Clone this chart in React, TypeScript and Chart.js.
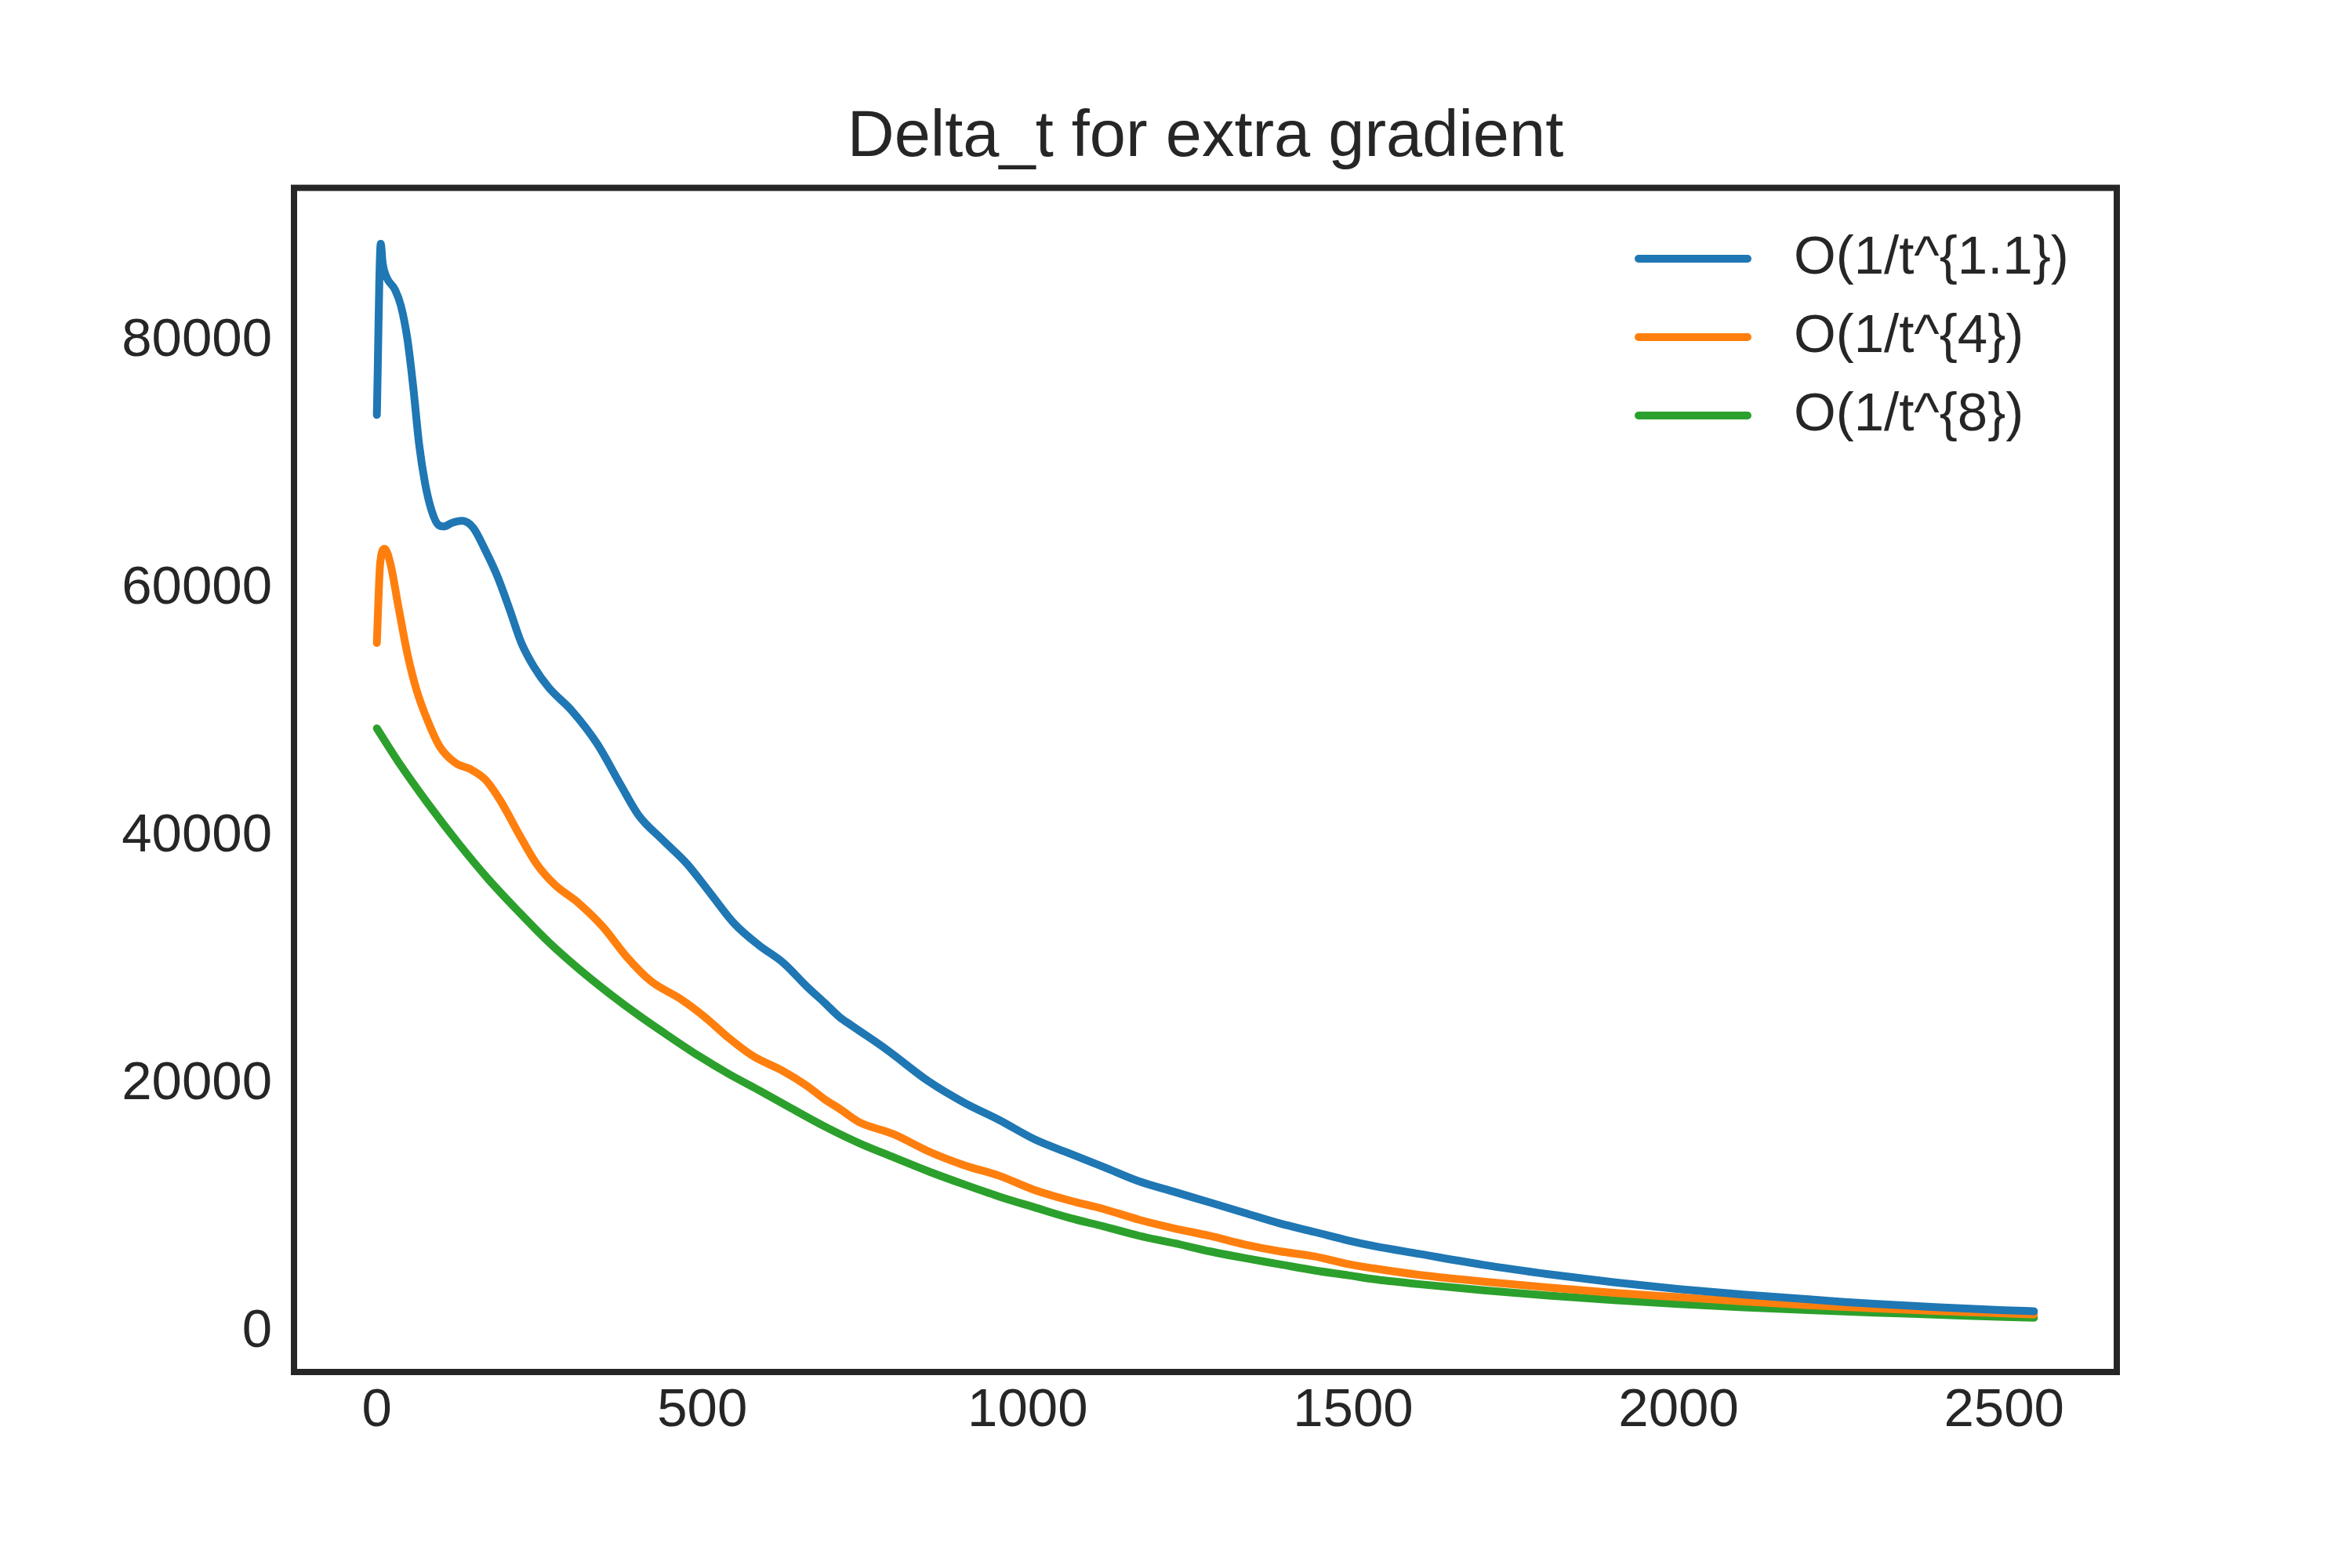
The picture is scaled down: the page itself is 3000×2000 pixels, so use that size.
import React, { useEffect, useRef } from 'react';
import Chart from 'chart.js/auto';

const FONT = '"Liberation Sans", Arial, sans-serif';
const INK = '#262626';

const chartTitle = 'Delta_t for extra gradient';
const seriesLabels = ['O(1/t^{1.1})', 'O(1/t^{4})', 'O(1/t^{8})'];
const seriesColors = ['#1f77b4', '#ff7f0e', '#2ca02c'];

const xTicks = [0, 500, 1000, 1500, 2000, 2500];
const yTicks = [0, 20000, 40000, 60000, 80000];

// iteration t and Delta_t
const stepsSlow = [0, 6, 9, 15, 28, 37, 47, 56, 65, 74, 84, 95, 103, 116, 131, 148, 166, 185, 204, 222, 241, 264,
    300, 338, 375, 402, 439, 476, 513, 550, 587, 624, 661, 687, 711, 730, 784, 848, 902, 956, 1010, 1064, 1117,
    1171, 1225, 1279, 1333, 1387, 1441, 1494, 1531, 1600, 1700, 1800, 1900, 2000, 2100, 2200, 2255, 2300, 2400,
    2500, 2546];
const deltaSlow = [73700, 87500, 85900, 84800, 83800, 82500, 79800, 75900, 71300, 68200, 66000, 64800, 64700, 65000,
    65150, 64600, 62850, 60700, 58000, 55300, 53400, 51700, 49800, 47200, 43800, 41400, 39400, 37500, 35050, 32600,
    30900, 29500, 27550, 26300, 25100, 24400, 22450, 19900, 18200, 16800, 15250, 14100, 13000, 11850, 11000, 10150,
    9300, 8450, 7750, 7050, 6630, 6000, 5100, 4350, 3700, 3150, 2700, 2320, 2110, 1960, 1680, 1440, 1360];

const stepsMid = [0, 5, 12, 21, 33, 47, 61, 79, 97, 121, 144, 167, 190, 218, 245, 273, 310, 347, 384, 421, 467, 504,
    541, 578, 624, 661, 687, 711, 740, 794, 848, 902, 956, 1010, 1064, 1117, 1171, 1225, 1279, 1333, 1387, 1441,
    1494, 1531, 1600, 1700, 1800, 1900, 2000, 2100, 2200, 2300, 2400, 2500, 2546];
const deltaMid = [55300, 61650, 62900, 61650, 58250, 54400, 51500, 48900, 46900, 45600, 45100, 44250, 42550, 39900,
    37500, 35800, 34300, 32400, 29950, 28000, 26550, 25100, 23400, 21950, 20750, 19550, 18500, 17700, 16650, 15650,
    14250, 13150, 12300, 11150, 10300, 9600, 8750, 8050, 7450, 6750, 6200, 5780, 5150, 4820, 4300, 3750, 3280, 2850,
    2500, 2150, 1850, 1600, 1380, 1180, 1100];

const stepsFast = [0, 33, 79, 125, 171, 218, 264, 310, 356, 402, 449, 495, 541, 587, 633, 687, 740, 794, 848, 902,
    956, 1010, 1064, 1117, 1171, 1225, 1279, 1333, 1387, 1441, 1494, 1531, 1600, 1700, 1800, 1900, 2000, 2100, 2200,
    2300, 2400, 2500, 2546];
const deltaFast = [48400, 45700, 42300, 39150, 36250, 33600, 31150, 29000, 27050, 25250, 23550, 21950, 20500, 19200,
    17850, 16300, 14950, 13780, 12640, 11600, 10620, 9750, 8900, 8200, 7450, 6850, 6200, 5650, 5150, 4650, 4250,
    3950, 3550, 3050, 2620, 2260, 1950, 1680, 1450, 1250, 1080, 900, 830];

const toPoints = (xs: number[], ys: number[]) => xs.map((x, i) => ({ x, y: ys[i] }));

// axes frame, like matplotlib spines
const framePlugin = {
    id: 'frame',
    afterDraw(chart: Chart) {
        const { ctx, chartArea } = chart;
        ctx.save();
        ctx.strokeStyle = INK;
        ctx.lineWidth = 8;
        ctx.strokeRect(chartArea.left, chartArea.top, chartArea.right - chartArea.left, chartArea.bottom - chartArea.top);
        ctx.restore();
    },
};

// legend drawn inside the upper right corner of the axes
const innerLegendPlugin = {
    id: 'innerLegend',
    afterDraw(chart: Chart) {
        const { ctx } = chart;
        ctx.save();
        ctx.font = `69px ${FONT}`;
        ctx.textBaseline = 'middle';
        ctx.textAlign = 'left';
        chart.data.datasets.forEach((ds, i) => {
            const y = 330 + i * 100;
            ctx.strokeStyle = ds.borderColor as string;
            ctx.lineWidth = 10;
            ctx.lineCap = 'round';
            ctx.beginPath();
            ctx.moveTo(2090, y);
            ctx.lineTo(2229, y);
            ctx.stroke();
            ctx.fillStyle = INK;
            ctx.fillText(ds.label as string, 2288, y);
        });
        ctx.restore();
    },
};

const App: React.FC = () => {
    const canvasRef = useRef<HTMLCanvasElement>(null);

    useEffect(() => {
        if (!canvasRef.current) return;
        const ctx = canvasRef.current.getContext('2d');
        if (!ctx) return;

        const series = [toPoints(stepsSlow, deltaSlow), toPoints(stepsMid, deltaMid), toPoints(stepsFast, deltaFast)];

        const chart = new Chart(ctx, {
            type: 'line',
            data: {
                datasets: series.map((pts, i) => ({
                    label: seriesLabels[i],
                    data: pts,
                    borderColor: seriesColors[i],
                    backgroundColor: seriesColors[i],
                    borderWidth: 10,
                    borderCapStyle: 'round',
                    borderJoinStyle: 'round',
                    pointRadius: 0,
                    cubicInterpolationMode: 'monotone',
                    fill: false,
                })),
            },
            options: {
                responsive: false,
                animation: false,
                devicePixelRatio: 1,
                layout: { padding: { left: 0, right: 300, top: 0, bottom: 0 } },
                plugins: {
                    legend: { display: false },
                    tooltip: { enabled: false },
                    title: {
                        display: true,
                        text: chartTitle,
                        fullSize: false,
                        color: INK,
                        font: { family: FONT, size: 83, weight: 'normal', lineHeight: 1.2 },
                        padding: { top: 126, bottom: 14 },
                    },
                },
                scales: {
                    x: {
                        type: 'linear',
                        min: -127.3,
                        max: 2673.3,
                        grid: { display: false, drawTicks: false },
                        border: { display: false },
                        afterFit: (axis: any) => { axis.height = 250; },
                        afterBuildTicks: (axis: any) => { axis.ticks = xTicks.map((v) => ({ value: v })); },
                        ticks: {
                            color: INK,
                            padding: 9,
                            maxRotation: 0,
                            autoSkip: false,
                            font: { family: FONT, size: 69, lineHeight: 1.2 },
                            callback: (v: any) => String(v),
                        },
                    },
                    y: {
                        type: 'linear',
                        min: -3544,
                        max: 92025,
                        grid: { display: false, drawTicks: false },
                        border: { display: false },
                        afterFit: (axis: any) => { axis.width = 375; },
                        afterBuildTicks: (axis: any) => { axis.ticks = yTicks.map((v) => ({ value: v })); },
                        ticks: {
                            color: INK,
                            padding: 28,
                            labelOffset: 5,
                            autoSkip: false,
                            font: { family: FONT, size: 69, lineHeight: 1.2 },
                            callback: (v: any) => String(v),
                        },
                    },
                },
            },
            plugins: [framePlugin, innerLegendPlugin],
        });

        return () => {
            chart.destroy();
        };
    }, []);

    return (
        <div style={{ position: 'absolute', left: 0, top: 0, width: 3000, height: 2000, background: '#fff' }}>
            <canvas ref={canvasRef} width={3000} height={2000} />
        </div>
    );
};

export default App;
